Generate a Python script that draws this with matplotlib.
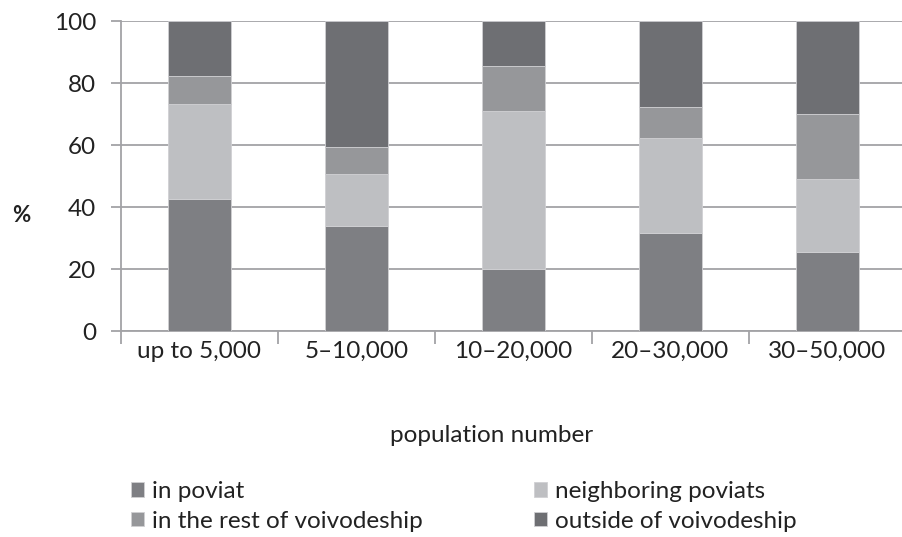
import numpy as np
import matplotlib
matplotlib.use("Agg")
import matplotlib.pyplot as plt

plt.rcParams['font.family'] = ['Lato', 'DejaVu Sans']

# population groups
categories = ['up to 5,000', '5\u201310,000', '10\u201320,000', '20\u201330,000', '30\u201350,000']
# shares in %
in_poviat = [42.6, 33.8, 19.9, 31.7, 25.6]
neighboring = [30.6, 16.8, 51.1, 30.7, 23.5]
rest_voiv = [9.0, 8.6, 14.5, 10.0, 21.0]
outside = [100 - a - b - c for a, b, c in zip(in_poviat, neighboring, rest_voiv)]

series = [('in poviat', in_poviat, '#7e7f83'),
          ('neighboring poviats', neighboring, '#bebfc2'),
          ('in the rest of voivodeship', rest_voiv, '#96979a'),
          ('outside of voivodeship', outside, '#6e6f73')]

fs = 17.5

fig = plt.figure(figsize=(9.03, 5.37), dpi=100)
ax = fig.add_axes([121 / 903, 1 - 331 / 537, 785 / 903, 310 / 537])

x = np.arange(len(categories))
bottom = np.zeros(len(categories))
handles = {}
for name, vals, col in series:
    b = ax.bar(x, vals, width=0.395, bottom=bottom, color=col,
               edgecolor='#d0d0d3', linewidth=0.6, zorder=3, label=name)
    handles[name] = b
    bottom += np.array(vals)

ax.set_xlim(-0.5, 4.5)
ax.set_ylim(0, 100)
ax.set_yticks(range(0, 101, 20))
ax.yaxis.grid(True, color='#a3a3a6', linewidth=1.3, zorder=0)
ax.set_axisbelow(True)

# category separators as major ticks, labels on minor ticks
ax.set_xticks(np.arange(-0.5, 4.6, 1.0))
ax.set_xticklabels([])
ax.set_xticks(x, minor=True)
ax.set_xticklabels(categories, minor=True, fontsize=fs, color='#222222')
ax.tick_params(axis='x', which='minor', length=0, pad=7)
ax.tick_params(axis='x', which='major', length=9, color='#a3a3a6', width=1.3)
ax.tick_params(axis='y', length=7, color='#a3a3a6', width=1.3, labelsize=fs,
               labelcolor='#222222', pad=11)

for s in ['top', 'right']:
    ax.spines[s].set_visible(False)
for s in ['left', 'bottom']:
    ax.spines[s].set_color('#a3a3a6')
    ax.spines[s].set_linewidth(1.3)

fig.text(12 / 903, 1 - 215 / 537, '%', fontsize=16, fontweight='bold', va='center', color='#222222')
fig.text(492 / 903, 1 - 436 / 537, 'population number', fontsize=fs, ha='center', va='center',
         color='#222222')

kw = dict(frameon=False, loc='upper left', fontsize=fs, handlelength=0.55, handleheight=0.55,
          handletextpad=0.3, labelspacing=0.36, borderaxespad=0, borderpad=0,
          labelcolor='#222222')
left_names = ['in poviat', 'in the rest of voivodeship']
right_names = ['neighboring poviats', 'outside of voivodeship']
fig.legend([handles[n] for n in left_names], left_names,
           bbox_to_anchor=(131 / 903, 1 - 481 / 537), **kw)
fig.legend([handles[n] for n in right_names], right_names,
           bbox_to_anchor=(534 / 903, 1 - 481 / 537), **kw)

fig.savefig('out.png', dpi=100)
